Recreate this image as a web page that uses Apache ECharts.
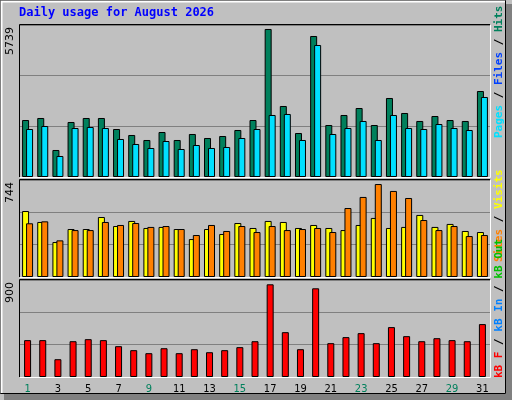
<!DOCTYPE html><html><head><meta charset="utf-8">
<script src="https://cdn.jsdelivr.net/npm/echarts@6/dist/echarts.min.js"></script>
<style>html,body{margin:0;padding:0;background:#c0c0c0}#c{width:512px;height:400px}</style></head><body><div id="c"></div>
<script>
const days = Array.from({length:31},(_,i)=>String(i+1));
const weekend = [1,2,8,9,15,16,22,23,29,30];
const hits = [2152,2228,1020,2077,2228,2228,1812,1586,1397,1699,1397,1624,1473,1548,1775,2152,5589,2681,1661,5324,1963,2341,2605,1963,2983,2417,2115,2303,2152,2115,3247];
const files = [1812,1926,793,1850,1888,1850,1435,1246,1095,1359,1057,1208,1095,1133,1473,1812,2341,2379,1397,4984,1624,1850,2115,1397,2341,1850,1812,2001,1850,1775,3021];
const visits = [506,422,268,368,368,460,391,430,376,384,368,291,368,330,414,376,430,422,376,399,376,360,399,453,376,384,476,384,407,353,345];
const sites = [412,427,281,360,360,422,399,414,384,391,368,322,399,353,391,345,391,360,368,376,345,529,614,713,660,606,437,360,391,314,322];
const kbF = [342,342,165,332,351,342,286,249,221,267,221,258,230,249,277,332,860,416,258,823,314,370,407,314,463,379,332,360,342,332,491];
const maxLabels = [5739,744,900];
const title = 'Daily usage for August 2026';

const grids=[{left:20,right:22,top:25,height:152},{left:20,right:22,top:180,height:97},{left:20,right:22,top:280,height:97}];
const xAxes=grids.map((g,i)=>({type:'category',gridIndex:i,data:days,
  axisLine:{show:false},axisTick:{show:false},
  axisLabel:i===2?{show:true,fontFamily:'DejaVu Sans Condensed, DejaVu Sans',fontSize:11,margin:7,
    color:(v)=>weekend.includes(+v)?'#00805c':'#000'}:{show:false}}));
const yAxes=maxLabels.map((m,i)=>({type:'value',gridIndex:i,min:0,max:m,interval:m/3,
  axisLine:{show:false},axisTick:{show:false},axisLabel:{show:false},
  splitLine:{show:true,lineStyle:{color:'#808080',width:1}}}));
const bs={borderColor:'#000',borderWidth:1};
const series=[
 {type:'bar',xAxisIndex:0,yAxisIndex:0,data:hits,barWidth:7,barGap:'-43%',itemStyle:{color:'#00805c',...bs}},
 {type:'bar',xAxisIndex:0,yAxisIndex:0,data:files,barWidth:7,itemStyle:{color:'#00e0ff',...bs}},
 {type:'bar',xAxisIndex:1,yAxisIndex:1,data:visits,barWidth:7,barGap:'-43%',itemStyle:{color:'#ffff00',...bs}},
 {type:'bar',xAxisIndex:1,yAxisIndex:1,data:sites,barWidth:7,itemStyle:{color:'#ff8000',...bs}},
 {type:'bar',xAxisIndex:2,yAxisIndex:2,data:kbF,barWidth:7,itemStyle:{color:'#ff0000',...bs}}
];
const gfx=[
 {type:'rect',shape:{x:0.5,y:0.5,width:505,height:393},style:{fill:'none',stroke:'#000',lineWidth:1},z:-1},
 {type:'rect',shape:{x:506,y:4,width:6,height:396},style:{fill:'#808080'},z:-1},
 {type:'rect',shape:{x:4,y:394,width:508,height:6},style:{fill:'#808080'},z:-1},
 {type:'polyline',shape:{points:[[1.5,393],[1.5,1.5],[505,1.5]]},style:{stroke:'#fff',fill:'none',lineWidth:2},z:-1},
 {type:'text',left:19,top:7,style:{text:title,font:'bold 12px "DejaVu Sans Mono", monospace',fill:'#0000ff'}}
];
grids.forEach((g,i)=>{
  const x0=g.left,y0=g.top,x1=512-g.right,y1=g.top+g.height;
  gfx.push({type:'polyline',shape:{points:[[x0-0.5,y1],[x0-0.5,y0-0.5],[x1,y0-0.5]]},style:{stroke:'#000',fill:'none',lineWidth:1},z:10});
  gfx.push({type:'polyline',shape:{points:[[x0,y1+0.5],[x1+0.5,y1+0.5],[x1+0.5,y0]]},style:{stroke:'#fff',fill:'none',lineWidth:1},z:10});
  gfx.push({type:'text',x:5,y:y0+2,rotation:Math.PI/2,style:{text:String(maxLabels[i]),font:'11px "DejaVu Sans", sans-serif',fill:'#000',align:'right',verticalAlign:'top'}});
});
const legFont='bold 11px "DejaVu Sans Mono", monospace';
function leg(y,parts){
  const rich={};let text='';
  parts.forEach((p,k)=>{rich['p'+k]={fill:p[1],font:legFont};text+='{p'+k+'|'+p[0]+'}';});
  gfx.push({type:'text',x:494,y:y,rotation:Math.PI/2,style:{text,rich,font:legFont,align:'left',verticalAlign:'top'}});
}
leg(138,[['Pages','#00e0ff'],[' / ','#000'],['Files','#0040ff'],[' / ','#000'],['Hits','#00805c']]);
leg(262,[['Sites','#ff8000'],[' / ','#000'],['Visits','#ffff00']]);
leg(378,[['kB F','#ff0000'],[' / ','#000'],['kB In','#0080ff'],[' / ','#000'],['kB Out','#00c000']]);
const ch=echarts.init(document.getElementById('c'));
ch.setOption({animation:false,backgroundColor:'#c0c0c0',grid:grids,xAxis:xAxes,yAxis:yAxes,series,graphic:gfx});
</script></body></html>
